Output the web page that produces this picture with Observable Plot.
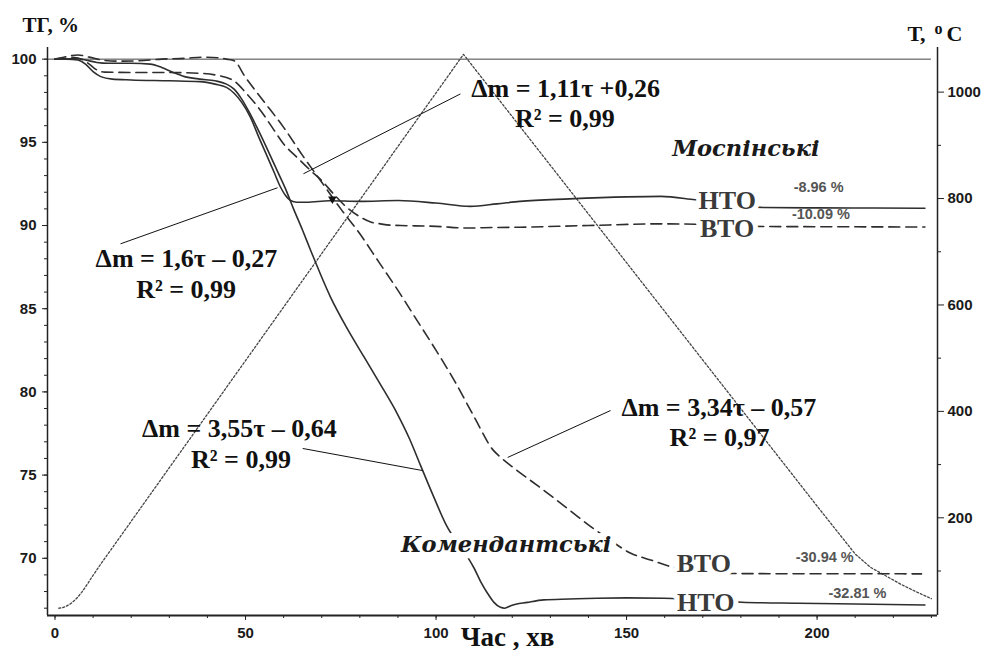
<!DOCTYPE html>
<html>
<head>
<meta charset="utf-8">
<script src="https://cdn.jsdelivr.net/npm/d3@7"></script>
<script src="https://cdn.jsdelivr.net/npm/@observablehq/plot@0.6"></script>
<style>
  html, body { margin: 0; padding: 0; background: #fff; }
  #chart svg { display: block; }
</style>
</head>
<body>
<div id="chart"></div>
<script>
// Thermogravimetric curves (mass, %) of Моспінські and Комендантські samples
// under low- (НТО) and high-temperature (ВТО) oxidation, with the furnace temperature.

// Final mass change of each run, %: Моспінські НТО, Моспінські ВТО, Комендантські ВТО, Комендантські НТО
const lossValues = [-8.96, -10.09, -30.94, -32.81];

// Моспінські, НТО (solid)
const mospHTO_t = [0, 3, 6, 8, 10, 12, 15, 20, 30, 38, 42, 45, 47, 49, 51.3, 53.5, 55.8, 57.5, 59.2, 60.5, 61.8, 63.5, 66, 72, 80, 90, 100, 109, 116, 122, 135, 150, 159, 168, 186, 200, 215, 228.3];
const mospHTO_m = [100, 100, 99.95, 99.7, 99.25, 98.95, 98.8, 98.75, 98.7, 98.65, 98.5, 98.3, 97.95, 97.4, 96.5, 95.3, 94.1, 93.2, 92.3, 91.8, 91.5, 91.4, 91.4, 91.49, 91.45, 91.5, 91.35, 91.15, 91.3, 91.45, 91.6, 91.72, 91.75, 91.55, 91.08, 91.06, 91.05, 100 + lossValues[0]];

// Моспінські, ВТО (dashed)
const mospBTO_t = [0, 3, 5, 7, 9, 11, 13, 20, 30, 38, 42, 46.9, 50, 54, 57, 60, 63.5, 67.1, 70, 73.1, 76.5, 80.2, 83, 85.4, 88, 90.7, 100, 108, 115, 122, 140, 159, 168, 186, 200, 215, 228.3];
const mospBTO_m = [100, 100.05, 100.1, 100.0, 99.7, 99.35, 99.22, 99.2, 99.2, 99.15, 99.05, 98.7, 98.0, 96.9, 95.9, 94.9, 94.1, 93.3, 92.7, 91.9, 91.1, 90.5, 90.2, 90.1, 90.02, 90.0, 89.95, 89.85, 89.88, 89.9, 90.0, 90.1, 90.08, 89.94, 89.93, 89.92, 100 + lossValues[1]];

// Комендантські, ВТО (dashed)
const komBTO_t = [0, 3, 6, 9, 13, 17, 22, 28, 34, 39, 43, 45, 47, 50, 55, 60, 65, 70, 75, 80, 85, 90, 95, 100, 105, 110, 115, 117, 120, 128.2, 135, 140.6, 145, 151.1, 156.3, 161.5, 170, 180, 200, 215, 227.4];
const komBTO_m = [100, 100.15, 100.25, 100.12, 99.92, 99.88, 99.9, 100.0, 100.05, 100.12, 100.08, 100.0, 99.9, 98.9, 97.4, 95.9, 94.2, 92.6, 91.0, 89.5, 87.8, 86.1, 84.3, 82.5, 80.6, 78.5, 76.5, 76.06, 75.5, 74.1, 72.9, 71.9, 71.2, 70.3, 69.9, 69.5, 69.2, 69.08, 69.07, 69.07, 100 + lossValues[2]];

// Комендантські, НТО (solid)
const komHTO_t = [0, 3, 5, 8, 11, 14, 20, 25, 28, 31, 34, 38, 42, 45, 47, 49, 51, 53, 55.5, 58.3, 60.5, 62.6, 65, 67.1, 72.3, 76.7, 81.1, 85, 89.8, 93, 95.9, 99, 102.9, 106, 108.2, 110, 111.7, 113.5, 115.2, 116.9, 118, 119.6, 124, 128.3, 135, 142.3, 150, 159.8, 168, 180.2, 195, 210, 228.3];
const komHTO_m = [100, 100, 100.05, 99.95, 99.8, 99.75, 99.75, 99.7, 99.5, 99.2, 98.95, 98.8, 98.7, 98.5, 98.2, 97.6, 96.8, 95.9, 94.7, 93.3, 92.2, 91.0, 89.7, 88.5, 85.7, 83.8, 82.1, 80.6, 78.7, 77.2, 75.6, 73.9, 71.9, 70.8, 70.1, 69.4, 68.6, 67.9, 67.35, 67.05, 67.0, 67.15, 67.35, 67.5, 67.55, 67.6, 67.62, 67.6, 67.5, 67.36, 67.3, 67.25, 100 + lossValues[3]];

// Furnace temperature, °C
const temp_t = [1, 2, 3, 4, 5, 6, 7, 8, 9, 10, 12, 107.2, 200, 205, 210, 214, 218, 222, 226, 230];
const temp_T = [30, 31, 34, 38, 44, 51, 60, 70, 81, 92, 113, 1071, 222, 177, 132, 107, 91, 75, 61, 48];

// Axis ticks
const timeTicks = [0, 50, 100, 150, 200];
const massTicks = [70, 75, 80, 85, 90, 95, 100];
const tempTicks = [200, 400, 600, 800, 1000];

// Regression annotations and the points their leader lines run between
const eqText = ["Δm = 1,11τ +0,26", "R² = 0,99", "Δm = 1,6τ – 0,27", "R² = 0,99",
                "Δm = 3,55τ – 0,64", "R² = 0,99", "Δm = 3,34τ – 0,57", "R² = 0,97"];
const eqT = [134.0, 133.8, 34.5, 34.4, 48.4, 48.8, 174.2, 174.4];
const eqM = [97.72, 95.93, 87.50, 85.66, 77.27, 75.45, 78.57, 76.77];
const leaderFromT = [106.4, 17.2, 65.0, 145.8];
const leaderFromM = [97.91, 88.90, 76.60, 78.88];
const leaderToT = [65.2, 58.4, 96.5, 118.8];
const leaderToM = [93.11, 92.27, 75.27, 76.06];

// Curve labels
const curveText = ["НТО", "ВТО", "ВТО", "НТО"];
const curveT = [176.4, 176.4, 170.3, 170.8];
const curveM = [91.01, 89.28, 69.16, 66.86];
const lossT = [200.4, 201.0, 202.0, 210.6];
const lossM = [91.99, 90.39, 69.76, 67.62];
const sampleText = ["Моспінські", "Комендантські"];
const sampleT = [181.3, 118.4];
const sampleM = [94.19, 70.36];

// ---- derived tables ----
const pts = (ts, vs) => ts.map((t, i) => ({t, v: vs[i]}));
const xDomain = [-1.97, 231.6];
const yDomain = [66.56, 100.7];
// temperature shares the vertical axis with mass through a linear map
const tempToY = T => 66.036 + 0.031982 * T;
const yToTemp = y => (y - 66.036) / 0.031982;

const eqs = eqText.map((text, i) => ({text, t: eqT[i], v: eqM[i]}));
const leaders = leaderFromT.map((t, i) => ({t1: t, v1: leaderFromM[i], t2: leaderToT[i], v2: leaderToM[i]}));
const curveLabels = curveText.map((text, i) => ({text, t: curveT[i], v: curveM[i]}));
const lossLabels = lossValues.map((d, i) => ({text: `${d.toFixed(2)} %`, t: lossT[i], v: lossM[i]}));
const sampleLabels = sampleText.map((text, i) => ({text, t: sampleT[i], v: sampleM[i]}));
const temperature = temp_t.map((t, i) => ({t, v: tempToY(temp_T[i])}));

const serif = "'Liberation Serif', 'Times New Roman', serif";
const sans = "'Liberation Sans', Arial, sans-serif";
const ink = "#2e2e2e";

const chart = Plot.plot({
  width: 984,
  height: 650,
  marginLeft: 47,
  marginRight: 47,
  marginTop: 47,
  marginBottom: 35,
  x: {domain: xDomain},
  y: {domain: yDomain},
  style: {fontFamily: sans, background: "#fff", color: "#1a1a1a", overflow: "visible"},
  marks: [
    // 100 % reference level
    Plot.ruleY([100], {x1: xDomain[0], x2: 230, stroke: "#444", strokeWidth: 1}),
    // furnace temperature
    Plot.line(temperature, {x: "t", y: "v", stroke: "#444", strokeWidth: 1.3, strokeDasharray: "2,2"}),
    // mass curves
    Plot.line(pts(mospHTO_t, mospHTO_m), {x: "t", y: "v", stroke: ink, strokeWidth: 1.6, curve: "monotone-x"}),
    Plot.line(pts(komHTO_t, komHTO_m), {x: "t", y: "v", stroke: ink, strokeWidth: 1.6, curve: "monotone-x"}),
    Plot.line(pts(mospBTO_t, mospBTO_m), {x: "t", y: "v", stroke: ink, strokeWidth: 1.6, strokeDasharray: "11,6", curve: "monotone-x"}),
    Plot.line(pts(komBTO_t, komBTO_m), {x: "t", y: "v", stroke: ink, strokeWidth: 1.6, strokeDasharray: "11,6", curve: "monotone-x"}),
    // leader lines to the fitted segments
    Plot.link(leaders, {x1: "t1", y1: "v1", x2: "t2", y2: "v2", stroke: "#111", strokeWidth: 1}),
    Plot.dot([{t: 72.8, v: 91.59}], {x: "t", y: "v", symbol: "triangle", r: 3.2, fill: "#111", rotate: 180}),
    // curve labels break the lines they sit on
    Plot.text(curveLabels, {x: "t", y: "v", text: "text", lineAnchor: "bottom", fontFamily: serif, fontWeight: "bold", fontSize: 26, fill: "#3a3a3a", stroke: "#fff", strokeWidth: 10}),
    Plot.text(sampleLabels, {x: "t", y: "v", text: "text", lineAnchor: "bottom", fontFamily: "'DejaVu Serif', serif", fontStyle: "italic", fontWeight: "bold", fontSize: 22.5, fill: "#1a1a1a", stroke: "#fff", strokeWidth: 14}),
    Plot.text(lossLabels, {x: "t", y: "v", text: "text", lineAnchor: "bottom", fontFamily: sans, fontWeight: "bold", fontSize: 14.5, fill: "#555"}),
    Plot.text(eqs, {x: "t", y: "v", text: "text", lineAnchor: "bottom", fontFamily: serif, fontWeight: "bold", fontSize: 26, fill: "#111"}),
    // axes
    Plot.axisX(timeTicks, {tickSize: 5, tickPadding: 7, fontSize: 15, fontWeight: "bold", label: null, stroke: "#222"}),
    Plot.axisX(d3.range(0, 231, 10), {tickSize: 3, tickFormat: () => "", label: null, stroke: "#222"}),
    Plot.axisY(massTicks, {anchor: "left", tickSize: 5, tickPadding: 6, fontSize: 15, fontWeight: "bold", label: null, stroke: "#222"}),
    Plot.axisY(d3.range(67, 101, 1), {anchor: "left", tickSize: 3, tickFormat: () => "", label: null, stroke: "#222"}),
    Plot.axisY(tempTicks.map(tempToY), {anchor: "right", tickSize: 6, tickPadding: 4, fontSize: 15, fontWeight: "bold", label: null, stroke: "#222", tickFormat: d => String(Math.round(yToTemp(d)))}),
    Plot.axisY(d3.range(100, 1001, 200).map(tempToY), {anchor: "right", tickSize: 3, tickFormat: () => "", label: null, stroke: "#222"}),
    Plot.ruleY([yDomain[0]], {stroke: "#222", strokeWidth: 2}),
    Plot.ruleX([xDomain[0], xDomain[1]], {stroke: "#222", strokeWidth: 1.5}),
    // axis titles
    Plot.text(["ТГ, %"], {frameAnchor: "top-left", dx: -25, dy: -16, textAnchor: "start", lineAnchor: "bottom", fontFamily: serif, fontWeight: "bold", fontSize: 21, fill: "#111"}),
    Plot.text(["Т,"], {frameAnchor: "top-right", dx: -30, dy: -7, textAnchor: "start", lineAnchor: "bottom", fontFamily: serif, fontWeight: "bold", fontSize: 22, fill: "#111"}),
    Plot.text(["o"], {frameAnchor: "top-right", dx: -3, dy: -13.5, textAnchor: "start", lineAnchor: "bottom", fontFamily: serif, fontWeight: "bold", fontSize: 16, fill: "#111"}),
    Plot.text(["С"], {frameAnchor: "top-right", dx: 9, dy: -7, textAnchor: "start", lineAnchor: "bottom", fontFamily: serif, fontWeight: "bold", fontSize: 22, fill: "#111"}),
    Plot.text(["Час , хв"], {frameAnchor: "bottom", dx: 15, dy: 30, lineAnchor: "bottom", fontFamily: serif, fontWeight: "bold", fontSize: 27, fill: "#111"})
  ]
});

document.getElementById("chart").append(chart);
</script>
</body>
</html>
